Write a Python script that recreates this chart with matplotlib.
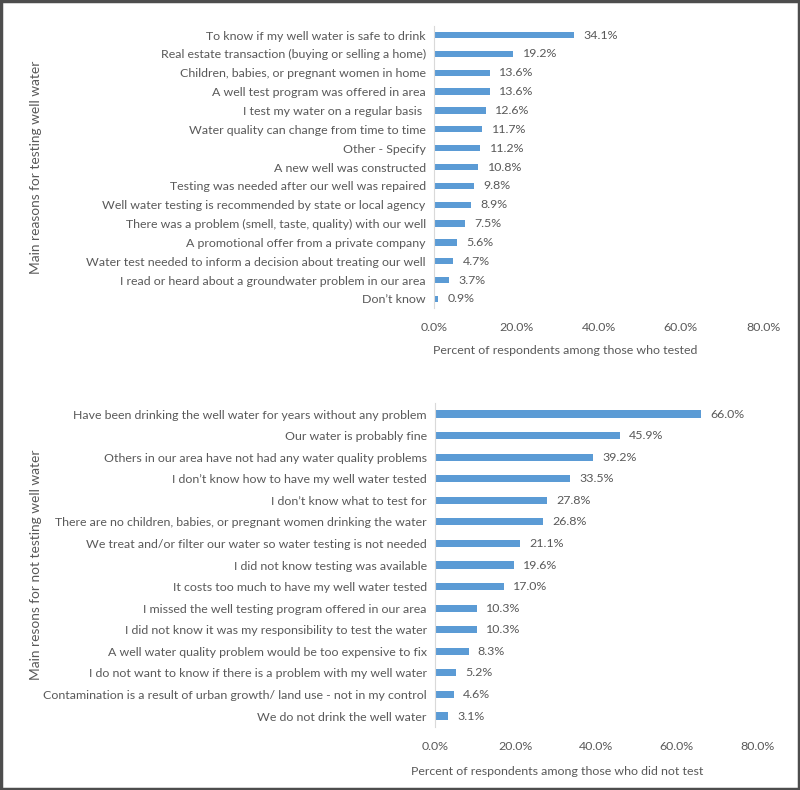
import matplotlib
matplotlib.use("Agg")
import matplotlib.pyplot as plt
from matplotlib.patches import Rectangle
from matplotlib.ticker import FuncFormatter

plt.rcParams['font.family'] = ['Lato', 'DejaVu Sans']

reasons_test = [
    "To know if my well water is safe to drink",
    "Real estate transaction (buying or selling a home)",
    "Children, babies, or pregnant women in home",
    "A well test program was offered in area",
    "I test my water on a regular basis ",
    "Water quality can change from time to time",
    "Other - Specify",
    "A new well was constructed",
    "Testing was needed after our well was repaired",
    "Well water testing is recommended by state or local agency",
    "There was a problem (smell, taste, quality) with our well",
    "A promotional offer from a private company",
    "Water test needed to inform a decision about treating our well",
    "I read or heard about a groundwater problem in our area",
    "Don\u2019t know",
]
values_test = [34.1, 19.2, 13.6, 13.6, 12.6, 11.7, 11.2, 10.8, 9.8, 8.9, 7.5, 5.6, 4.7, 3.7, 0.9]

reasons_not = [
    "Have been drinking the well water for years without any problem",
    "Our water is probably fine",
    "Others in our area have not had any water quality problems",
    "I don\u2019t know how to have my well water tested",
    "I don\u2019t know what to test for",
    "There are no children, babies, or pregnant women drinking the water",
    "We treat and/or filter our water so water testing is not needed",
    "I did not know testing was available",
    "It costs too much to have my well water tested",
    "I missed the well testing program offered in our area",
    "I did not know it was my responsibility to test the water",
    "A well water quality problem would be too expensive to fix",
    "I do not want to know if there is a problem with my well water",
    "Contamination is a result of urban growth/ land use - not in my control",
    "We do not drink the well water",
]
values_not = [66.0, 45.9, 39.2, 33.5, 27.8, 26.8, 21.1, 19.6, 17.0, 10.3, 10.3, 8.3, 5.2, 4.6, 3.1]

xticks = [0, 20, 40, 60, 80]

BAR = '#5B9BD5'
TXT = '#595959'
FS = 8.9

fig = plt.figure(figsize=(8, 7.9), dpi=100)

def panel(rect, cats, vals, ylabel, xlabel, xlabel_xy, ylabel_x, bh):
    ax = fig.add_axes(rect)
    y = list(range(len(cats)))
    ax.barh(y, vals, height=bh, color=BAR)
    ax.set_ylim(len(cats) - 0.5, -0.5)
    ax.set_xlim(0, 80)
    ax.set_yticks(y)
    ax.set_yticklabels(cats, fontsize=FS, color=TXT)
    ax.set_xticks(xticks)
    ax.xaxis.set_major_formatter(FuncFormatter(lambda v, p: f"{v:.1f}%"))
    ax.tick_params(axis='x', length=0, labelsize=FS, labelcolor=TXT, pad=10)
    ax.tick_params(axis='y', length=0, pad=6)
    for s in ['top', 'right', 'bottom']:
        ax.spines[s].set_visible(False)
    ax.spines['left'].set_color('#D9D9D9')
    ax.spines['left'].set_linewidth(0.8)
    for yi, v in zip(y, vals):
        ax.text(v + 2.3, yi, f"{v:.1f}%", va='center', ha='left', fontsize=FS, color=TXT)
    ax.set_ylabel(ylabel, fontsize=9.9, color=TXT)
    ax.yaxis.set_label_coords(ylabel_x, 0.5)
    ax.set_xlabel(xlabel, fontsize=FS, color=TXT)
    ax.xaxis.set_label_coords(*xlabel_xy)
    return ax

ax1 = panel([0.5425, 0.6096, 0.4115, 0.358], reasons_test, values_test,
            "Main reasons for testing well water",
            "Percent of respondents among those who tested", (0.40, -0.13), -1.19, 0.33)
ax2 = panel([0.544, 0.080, 0.4025, 0.4096], reasons_not, values_not,
            "Main resons for not testing well water",
            "Percent of respondents among those who did not test", (0.38, -0.122), -1.22, 0.33)

fig.patches.append(Rectangle((0.0015, 0.0015), 0.997, 0.997, transform=fig.transFigure,
                             fill=False, edgecolor='#4D4D4D', linewidth=2.5))

fig.savefig('out.png', dpi=100, facecolor='white')
